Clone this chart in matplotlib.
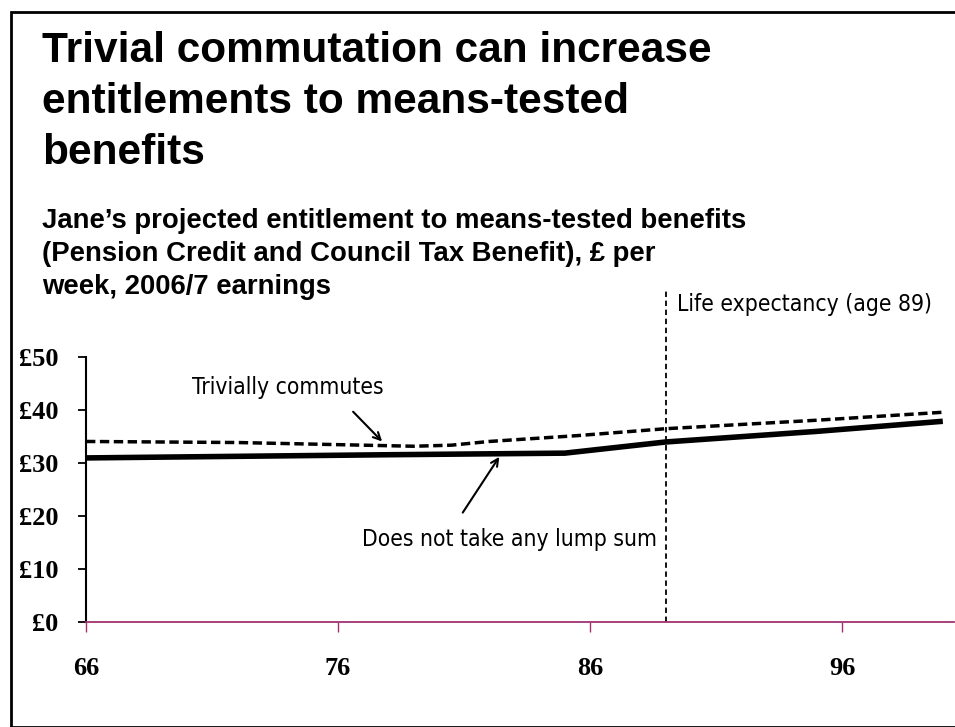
import os
import matplotlib
matplotlib.use("Agg")
import matplotlib.pyplot as plt
from matplotlib import font_manager
from matplotlib.font_manager import FontProperties
from matplotlib.patches import Rectangle

# Data: projected weekly means-tested benefit entitlement by age
ages_lump = [66, 72, 79, 80.5, 82, 85.5, 89, 95, 100]
trivially_commutes = [34.0, 33.8, 33.1, 33.3, 34.0, 35.1, 36.4, 38.0, 39.5]

ages_none = [66, 72, 78, 85, 89, 95, 100]
no_lump_sum = [30.9, 31.2, 31.5, 31.8, 33.9, 35.9, 37.8]

life_expectancy_age = 89
x_ticks = [66, 76, 86, 96]
y_ticks = [0, 10, 20, 30, 40, 50]
y_tick_labels = ["£0", "£10", "£20", "£30", "£40", "£50"]

title_lines = ["Trivial commutation can increase",
               "entitlements to means-tested",
               "benefits"]
subtitle_lines = ["Jane\u2019s projected entitlement to means-tested benefits",
                  "(Pension Credit and Council Tax Benefit), £ per",
                  "week, 2006/7 earnings"]


def font_file(*names):
    files = {os.path.basename(f.fname): f.fname for f in font_manager.fontManager.ttflist}
    for n in names:
        if n in files:
            return files[n]
    return None


sans_bold_path = font_file("LiberationSans-Bold.ttf", "Arimo-Bold.ttf")
narrow_path = font_file("LiberationSansNarrow-Regular.ttf", "DejaVuSansCondensed.ttf")
serif_bold_path = font_file("LiberationSerif-Bold.ttf", "Tinos-Bold.ttf")


def fp(path, size, family="DejaVu Sans", weight="normal"):
    if path:
        return FontProperties(fname=path, size=size)
    return FontProperties(family=family, weight=weight, size=size)


title_fp = fp(sans_bold_path, 30.5, weight="bold")
subtitle_fp = fp(sans_bold_path, 19.8, weight="bold")
note_fp = fp(narrow_path, 16.4)
tick_fp = fp(serif_bold_path, 19, family="DejaVu Serif", weight="bold")

W, H = 955, 727
fig = plt.figure(figsize=(W / 100, H / 100), dpi=100)

# outer frame
fig.patches.append(Rectangle((11 / W, 0), 1.0, 1 - 12 / H, transform=fig.transFigure,
                             fill=False, edgecolor="black", linewidth=2.0))

for i, line in enumerate(title_lines):
    fig.text(42 / W, 1 - (62 + 51 * i) / H, line, fontproperties=title_fp,
             va="baseline", ha="left")
for i, line in enumerate(subtitle_lines):
    fig.text(42 / W, 1 - (228 + 33 * i) / H, line, fontproperties=subtitle_fp,
             va="baseline", ha="left")

x0, x1 = 86, 954
y0, y1 = 622, 290
ax = fig.add_axes([x0 / W, 1 - y0 / H, (x1 - x0) / W, (y0 - y1) / H])
ax.set_xlim(66, 66 + (x1 - x0) / 25.2)
ax.set_ylim(0, (y0 - y1) / 5.31)

ax.plot(ages_none, no_lump_sum, color="black", linewidth=4.0, solid_capstyle="butt")
ax.plot(ages_lump, trivially_commutes, color="black", linewidth=2.5,
        linestyle=(0, (2.7, 1.3)), dash_capstyle="butt")

ax.axvline(life_expectancy_age, color="black", linewidth=1.3, linestyle=(0, (3, 2)))
ax.text(life_expectancy_age + 0.45, 59.7, "Life expectancy (age 89)",
        fontproperties=note_fp, va="center", ha="left")

arrow = dict(arrowstyle="->", color="black", lw=1.5, shrinkA=0, shrinkB=0,
             mutation_scale=13)
ax.text(74.0, 44.1, "Trivially commutes", fontproperties=note_fp,
        ha="center", va="center")
ax.annotate("", xy=(77.75, 34.0), xytext=(76.6, 39.6), arrowprops=arrow)
ax.text(82.8, 15.5, "Does not take any lump sum", fontproperties=note_fp,
        ha="center", va="center")
ax.annotate("", xy=(82.4, 31.1), xytext=(80.95, 20.6), arrowprops=arrow)

for s in ("top", "right"):
    ax.spines[s].set_visible(False)
ax.spines["left"].set_bounds(0, 50)
ax.spines["left"].set_linewidth(1.5)
ax.spines["bottom"].set_color("#A3336F")
ax.spines["bottom"].set_linewidth(1.3)

ax.set_yticks(y_ticks)
ax.set_yticklabels(y_tick_labels)
ax.set_xticks(x_ticks)
ax.set_xticklabels([str(t) for t in x_ticks])
for lab in ax.get_xticklabels() + ax.get_yticklabels():
    lab.set_fontproperties(tick_fp)
ax.tick_params(axis="y", direction="out", length=6, width=1.3, pad=14, colors="black")
ax.tick_params(axis="x", direction="out", length=7, width=1.0, pad=18,
               color="#A3336F", labelcolor="black")

fig.savefig("out.png", dpi=100)
